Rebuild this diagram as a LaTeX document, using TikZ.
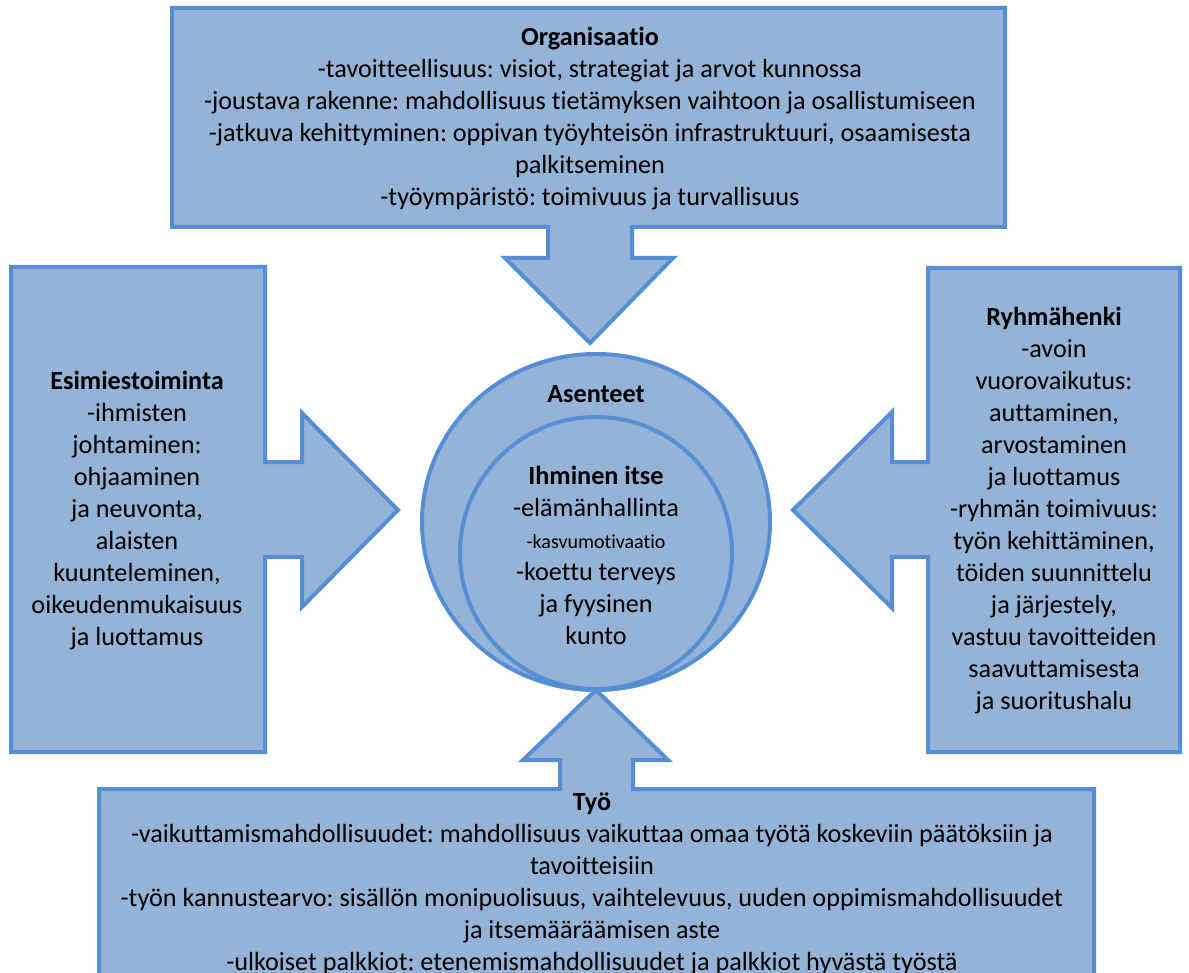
\documentclass[tikz,border=0pt]{standalone}
\usepackage{fontspec}
\setmainfont{Carlito}[Ligatures=NoCommon]
\definecolor{boxfill}{RGB}{149,179,215}
\definecolor{boxline}{RGB}{85,142,213}
\frenchspacing
\begin{document}
\begin{tikzpicture}[x=1pt,y=-1pt,
  shapestyle/.style={fill=boxfill,draw=boxline,line width=4pt,line join=miter},
  txt/.style={align=center,inner sep=0pt,text=black,font=\frenchspacing\fontsize{26.2}{32}\selectfont}]
\useasboundingbox (0,0) rectangle (1189,973);
\begin{scope}
\clip (0,0) rectangle (1189,973);
% top callout
\draw[shapestyle] (172,8) -- (1005,8) -- (1005,227) -- (632,227) -- (632,258) -- (673,258) -- (590,343) -- (505,258) -- (548,258) -- (548,227) -- (172,227) -- cycle;
% left callout
\draw[shapestyle] (11,267) -- (265,267) -- (265,462) -- (302,462) -- (302,413) -- (398,510) -- (302,607) -- (302,557) -- (265,557) -- (265,752) -- (11,752) -- cycle;
% right callout
\draw[shapestyle] (1180,268) -- (928,268) -- (928,462) -- (892,462) -- (892,412) -- (793,510) -- (892,608) -- (892,557) -- (928,557) -- (928,752) -- (1180,752) -- cycle;
% bottom callout
\draw[shapestyle] (99,1010) -- (99,789) -- (560,789) -- (560,760) -- (523,760) -- (596,690) -- (668,760) -- (633,760) -- (633,789) -- (1094,789) -- (1094,1010) -- cycle;
% circles
\draw[shapestyle] (596,522) ellipse [x radius=174, y radius=168];
\draw[shapestyle] (596,553) circle [radius=136];
\end{scope}
% texts
\node[txt] (org) at (590,119) {\textbf{Organisaatio}\\
-tavoitteellisuus: visiot, strategiat ja arvot kunnossa\\
-joustava rakenne: mahdollisuus tietämyksen vaihtoon ja osallistumiseen\\
-jatkuva kehittyminen: oppivan työyhteisön infrastruktuuri, osaamisesta\\
palkitseminen\\
-työympäristö: toimivuus ja turvallisuus};
\node[txt] (esi) at (137,511) {\textbf{Esimiestoiminta}\\
-ihmisten\\ johtaminen:\\ ohjaaminen\\ ja neuvonta,\\ alaisten\\ kuunteleminen,\\ oikeudenmukaisuus\\ ja luottamus};
\node[txt] (ryh) at (1054,511) {\textbf{Ryhmähenki}\\
-avoin\\ vuorovaikutus:\\ auttaminen,\\ arvostaminen\\ ja luottamus\\ -ryhmän toimivuus:\\ työn kehittäminen,\\ töiden suunnittelu\\ ja järjestely,\\ vastuu tavoitteiden\\ saavuttamisesta\\ ja suoritushalu};
\node[txt] (ase) at (596,394) {\textbf{Asenteet}};
\node[txt] (ihm) at (596,555) {\textbf{Ihminen itse}\\
-elämänhallinta\\
{\fontsize{20}{27}\selectfont -kasvumotivaatio}\\
-koettu terveys\\ ja fyysinen\\ kunto};
\node[txt] (tyo) at (592,884) {\textbf{Työ}\\
-vaikuttamismahdollisuudet: mahdollisuus vaikuttaa omaa työtä koskeviin päätöksiin ja\\
tavoitteisiin\\
-työn kannustearvo: sisällön monipuolisuus, vaihtelevuus, uuden oppimismahdollisuudet\\
ja itsemääräämisen aste\\
-ulkoiset palkkiot: etenemismahdollisuudet ja palkkiot hyvästä työstä};
\end{tikzpicture}
\end{document}
